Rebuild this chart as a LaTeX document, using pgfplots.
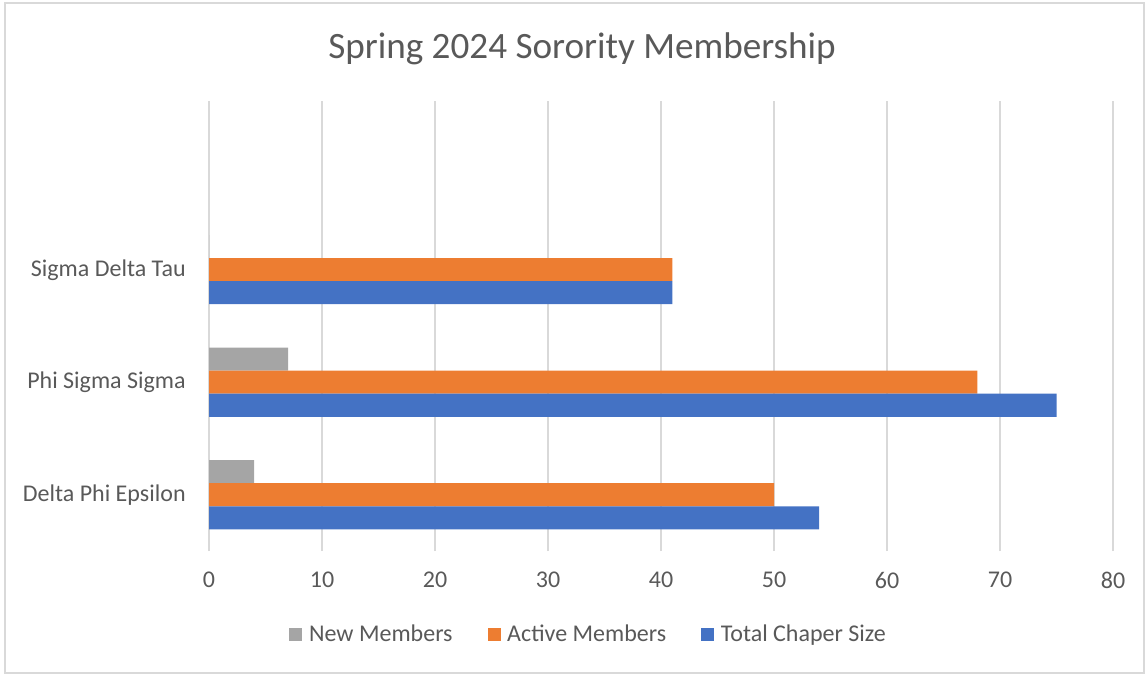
\documentclass[border=0pt]{standalone}
\usepackage{fontspec}
\setmainfont{Carlito}
\usepackage{pgfplots}
\pgfplotsset{compat=1.18}
\definecolor{cblue}{HTML}{4472C4}
\definecolor{corange}{HTML}{ED7D31}
\definecolor{cgray}{HTML}{A5A5A5}
\definecolor{ctext}{HTML}{595959}
\definecolor{cgrid}{HTML}{D9D9D9}
\begin{document}
\begin{tikzpicture}
\begin{axis}[
 scale only axis,
 width=542.4pt,
 height=270pt,
 xbar,
 bar width=13.8pt,
 xmin=0, xmax=80,
 ymin=-0.5, ymax=3.5,
 xtick={0,10,...,80},
 ytick={0,1,2},
 yticklabels={Delta Phi Epsilon, Phi Sigma Sigma, Sigma Delta Tau},
 major tick length=0pt,
 axis line style={draw=none},
 xmajorgrids,
 grid style={cgrid, line width=0.9pt},
 tick label style={font=\fontsize{14.4}{17}\selectfont, text=ctext},
 /pgf/number format/assume math mode=true,
 xticklabel style={anchor=center, yshift=-17.4pt},
 yticklabel style={anchor=east, inner sep=0pt, xshift=-13.8pt},
 title={Spring 2024 Sorority Membership},
 title style={at={(0.5,1)}, anchor=center, xshift=-47.4pt, yshift=25.2pt, font=\fontsize{22.3}{26}\selectfont, text=ctext},
 legend style={at={(0.5,0)}, anchor=center, xshift=-43pt, yshift=-50pt, draw=none, legend columns=-1,
   font=\fontsize{14.4}{17}\selectfont, text=ctext,
   /tikz/every even column/.append style={column sep=19pt}},
 legend image code/.code={\fill[#1] (0pt,-3.9pt) rectangle (7.8pt,3.9pt); \path (9.8pt,0pt);},
]
\addplot[fill=cgray, draw=none, bar shift=13.8pt] coordinates {(4,0) (7,1) (0,2)};
\addplot[fill=corange, draw=none, bar shift=0pt] coordinates {(50,0) (68,1) (41,2)};
\addplot[fill=cblue, draw=none, bar shift=-13.8pt] coordinates {(54,0) (75,1) (41,2)};
\legend{New Members, Active Members, Total Chaper Size}
\end{axis}
\draw[cgrid, line width=0.9pt] ([shift={(-122.4pt,-73.2pt)}]current axis.south west) rectangle ([shift={(18.6pt,58.8pt)}]current axis.north east);
\path ([shift={(-125.4pt,-75pt)}]current axis.south west) rectangle ([shift={(20.4pt,60.6pt)}]current axis.north east);
\end{tikzpicture}
\end{document}
